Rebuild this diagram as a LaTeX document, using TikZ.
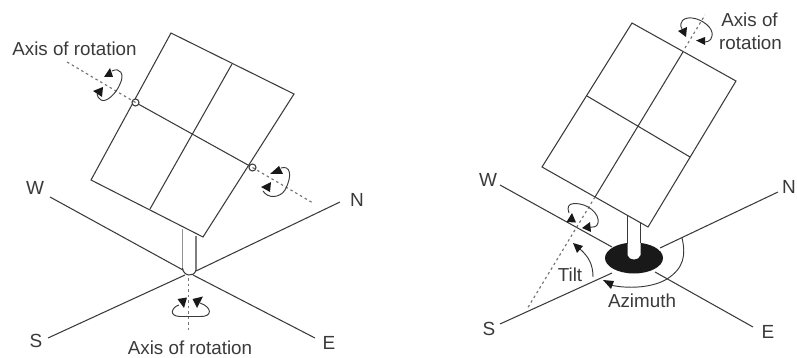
\documentclass[tikz,border=0pt]{standalone}
\usepackage{fontspec}
\setmainfont{Liberation Sans}
\definecolor{ink}{HTML}{3A3A3A}
\tikzset{
  ln/.style={draw=ink,line width=1.05pt},
  axisln/.style={draw=ink!70,line width=1.15pt,dash pattern=on 2.5pt off 3pt},
  loopln/.style={draw=ink,line width=0.95pt},
  head/.style={fill=black!90},
  lab/.style={font=\fontsize{18.8pt}{20pt}\selectfont,text=ink,inner sep=0pt},
  dir/.style={font=\fontsize{19pt}{20pt}\selectfont,text=ink,inner sep=0pt}
}
\begin{document}
\begin{tikzpicture}[x=1pt,y=-1pt]
\useasboundingbox (0,0) rectangle (797,358);
% ---- left
\coordinate (lT) at (171,33); \coordinate (lR) at (294,94);
\coordinate (lB) at (203,237); \coordinate (lL) at (91,180);
\coordinate (lm1) at (232,64); \coordinate (lm2) at (150,209);
\coordinate (lc1) at (135.5,102.5); \coordinate (lc2) at (252.5,167.5);
\draw[ln] (lT)--(lR)--(lB)--(lL)--cycle;
\draw[ln] (lm1)--(lm2);
\draw[ln] (lc1)--(lc2);
\draw[ln,fill=white] (lc1) circle (3.5);
\draw[ln,fill=white] (lc2) circle (3.5);
\coordinate (lW) at (50,197); \coordinate (lN) at (340,202);
\coordinate (lS) at (48,338); \coordinate (lE) at (315,338);
\draw[ln] (lW)--(183,270);
\draw[ln] (lN)--(196,271);
\draw[ln] (lS)--(185,275);
\draw[ln] (lE)--(193,275);
\draw[draw=ink!55,line width=1.3pt] (182.5,229)--(182.5,268);
\draw[ln] (182.5,268) .. controls (183,276) and (194,278) .. (196,270)--(196,236);
% axes
\draw[axisln] (lc1)--(67,62);
\draw[axisln] (lc2)--(313,203);
\draw[axisln] (188.5,278)--(188.5,331);
% rotation loops, left
\draw[loopln] (112,71) .. controls (120,67) and (125,74) .. (120,84) .. controls (116,94) and (106,103) .. (101,100) .. controls (99,99) and (97,96) .. (97,94);
\fill[head] (104,77)--(110,68)--(113,77)--cycle;
\fill[head] (93,91)--(103,87)--(102,97)--cycle;
\draw[loopln] (281,168) .. controls (290,165) and (293,175) .. (285,190) .. controls (280,198) and (268,199) .. (263,191);
\fill[head] (270,174)--(279,166)--(283,174)--cycle;
\fill[head] (261,187)--(271,182)--(270,192)--cycle;
\draw[loopln] (179,305) .. controls (172,307) and (168,316) .. (180,316.5) -- (200,316.5) .. controls (213,317) and (212,307) .. (200,303);
\fill[head] (177.5,299)--(187,297.5)--(184,308)--cycle;
\fill[head] (203,296.5)--(192.5,299)--(197,308)--cycle;
% labels
\node[lab] (t1) at (74.5,49) {Axis of rotation};
\node[lab] (t2) at (190,347.5) {Axis of rotation};
\node[dir] (W1) at (35,188) {W};
\node[dir] (N1) at (357,200) {N};
\node[dir] (S1) at (36,341) {S};
\node[dir] (E1) at (329,343) {E};
% ---- right
\coordinate (rW) at (500,185); \coordinate (rN) at (778,192);
\coordinate (rS) at (500,324); \coordinate (rE) at (753,327);
\draw[ln] (rW)--(612,247);
\draw[ln] (rS)--(612,273);
\draw[ln] (rN)--(660,248);
\draw[ln] (rE)--(655,272);
\fill[black!90] (634,258) ellipse (29 and 15.5);
\fill[white] (627.5,216) -- (627.5,255) .. controls (629,261) and (639,261) .. (640.5,255) -- (640.5,222) -- cycle;
\draw[ln] (627.5,216) -- (627.5,244);
\draw[ln] (640.5,222) -- (640.5,243);
\coordinate (rT) at (632,23); \coordinate (rR) at (736,81);
\coordinate (rB) at (648,227); \coordinate (rL) at (542,167);
\draw[ln] (rT)--(rR)--(rB)--(rL)--cycle;
\draw[ln] (683,52)--(595,197);
\draw[ln] (587,96)--(690,157);
\draw[axisln] (595,197)--(527,309);
\draw[axisln] (685,48)--(705,15);
% rotation loops, right
\draw[loopln] (569,213) .. controls (567,207) and (568,204) .. (574,203.5) .. controls (588,203) and (600,214) .. (598,223) .. controls (597,228) and (592,227) .. (589,227);
\fill[head] (566.5,222)--(572,213)--(576,222.5)--cycle;
\fill[head] (582,228)--(590,222)--(591,232)--cycle;
\draw[loopln] (682,29) .. controls (678,22) and (684,17) .. (692,18) .. controls (702,19) and (714,28) .. (712,36) .. controls (711,42) and (706,42) .. (703,42);
\fill[head] (678,31)--(687,27)--(686,37)--cycle;
\fill[head] (696,40.5)--(705,37)--(705,45)--cycle;
% tilt, azimuth
\draw[loopln] (593,277) .. controls (593,265) and (589,257) .. (580,249);
\fill[head] (573,243)--(583,246)--(577,253)--cycle;
\draw[loopln] (682,238) .. controls (686,255) and (684,268) .. (667,279) .. controls (652,288) and (628,289) .. (610,285);
\fill[head] (603,280)--(614,281)--(611,289)--cycle;
% labels
\node[lab] (t3) at (749.5,20) {Axis of};
\node[lab] (t4) at (750.5,43) {rotation};
\node[lab] (t5) at (570,275) {Tilt};
\node[lab] (t6) at (642,301) {Azimuth};
\node[dir] (W2) at (488,180) {W};
\node[dir] (N2) at (789,187) {N};
\node[dir] (S2) at (489,329) {S};
\node[dir] (E2) at (768,332) {E};
\end{tikzpicture}
\end{document}
